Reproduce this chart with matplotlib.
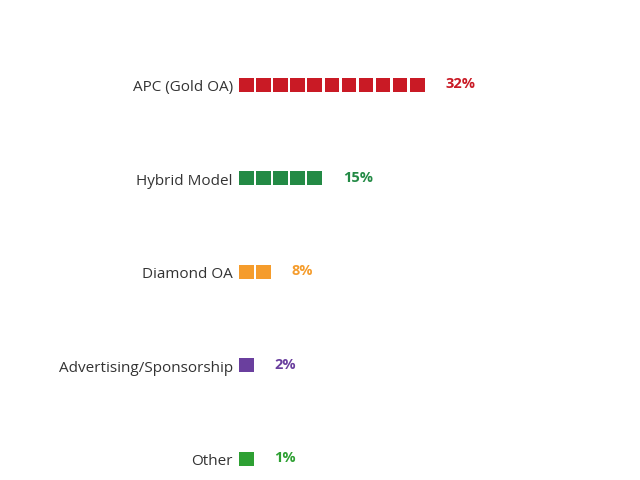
import matplotlib
matplotlib.use("Agg")
import matplotlib.pyplot as plt
from matplotlib.patches import Rectangle

# data
categories = ["APC (Gold OA)", "Hybrid Model", "Diamond OA",
              "Advertising/Sponsorship", "Other"]
values = [32, 15, 8, 2, 1]
squares = [11, 5, 2, 1, 1]
colors = ["#C91A25", "#238A45", "#F59C2C", "#6A3F9E", "#2EA033"]

plt.rcParams["font.family"] = ["Open Sans", "DejaVu Sans"]

fig = plt.figure(figsize=(6.4, 4.8), dpi=100)
# one x unit = one square pitch (~17 px)
pitch = 17.1
ax = fig.add_axes([239 / 640, 0, 401 / 640, 1])
ax.set_xlim(0, 401 / pitch)
ax.set_ylim(-4.225, 0.909)
ax.axis("off")

sq_w = 14.5 / pitch
sq_h = 14 / 93.5

for i, (cat, val, n, c) in enumerate(zip(categories, values, squares, colors)):
    y = -i
    for k in range(n):
        ax.add_patch(Rectangle((k, y - sq_h / 2), sq_w, sq_h,
                               facecolor=c, edgecolor="none"))
    ax.text(-6 / pitch, y - 0.01, cat, ha="right", va="center_baseline",
            fontsize=11, color="#333333")
    ax.text(n - 1 + sq_w + 21 / pitch, y + 0.01, f"{val}%", ha="left",
            va="center", fontsize=10.5, fontweight="bold", color=c)

fig.savefig("out.png", dpi=100, facecolor="white")
